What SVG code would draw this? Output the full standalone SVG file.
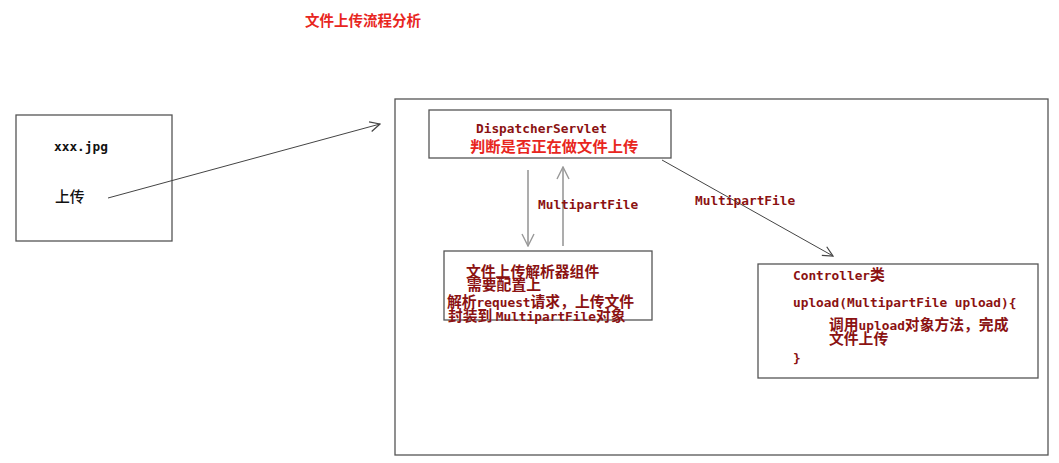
<svg xmlns="http://www.w3.org/2000/svg" width="1059" height="463" viewBox="0 0 1059 463">
<style>
.box{fill:#fff;stroke:#555;stroke-width:1.3}
.cn{font-family:"Noto Sans CJK SC","Noto Sans",sans-serif;font-size:14.8px;font-weight:bold}
.t{font-size:14.5px}
.nw{font-weight:500}
.m{font-family:"DejaVu Sans Mono","Liberation Mono",monospace;font-size:12.8px;font-weight:bold}
.dr{fill:#8b1212}
.rd{fill:#e8261e}
.bk{fill:#111}
.ln{fill:none;stroke:#444;stroke-width:1}
.gl{fill:none;stroke:#999;stroke-width:1.6}
</style>
<defs>
<marker id="ah" viewBox="0 0 12 12" refX="11" refY="6" markerWidth="12" markerHeight="12" markerUnits="userSpaceOnUse" orient="auto">
<path d="M1,1 L11,6 L1,11" fill="none" stroke="#444" stroke-width="1.2"/>
</marker>
<marker id="ag" viewBox="0 0 14 14" refX="13" refY="7" markerWidth="14" markerHeight="14" markerUnits="userSpaceOnUse" orient="auto">
<path d="M1,1 L13,7 L1,13" fill="none" stroke="#999" stroke-width="1.4"/>
</marker>
</defs>
<rect width="1059" height="463" fill="#fff"/>
<g id="title"><text x="305" y="26" class="cn t rd">文件上传流程分析</text></g>
<g id="container"><rect x="395" y="99" width="653" height="356" class="box"/></g>
<g id="file"><rect x="16" y="115" width="156" height="126" class="box"/>
<text x="54" y="151" class="m bk">xxx.jpg</text>
<text x="55" y="202" class="cn nw bk">上传</text></g>
<g id="dispatcher"><rect x="429" y="110" width="242" height="48" class="box"/>
<text x="476" y="133" class="m dr">DispatcherServlet</text>
<text x="470" y="152" class="cn rd" style="font-size:15.3px">判断是否正在做文件上传</text></g>
<g id="resolver"><rect x="444" y="251" width="208" height="69" class="box"/>
<text x="466" y="277" class="cn dr">文件上传解析器组件</text>
<text x="467" y="290" class="cn dr">需要配置上</text>
<text x="447" y="307" class="cn dr">解析<tspan class="m">request</tspan>请求，上传文件</text>
<text x="448" y="321" class="cn dr">封装到 <tspan class="m">MultipartFile</tspan>对象</text></g>
<g id="controller"><rect x="758" y="264" width="280" height="114" class="box"/>
<text x="793" y="280" class="cn dr"><tspan class="m">Controller</tspan>类</text>
<text x="793" y="307" class="m dr">upload(MultipartFile upload){</text>
<text x="829" y="330" class="cn dr"><tspan>调用</tspan><tspan class="m">upload</tspan>对象方法，完成</text>
<text x="829" y="344" class="cn dr">文件上传</text>
<text x="793" y="362" class="m dr">}</text></g>
<g id="connectors">
<line x1="108" y1="198" x2="380" y2="124" class="ln" marker-end="url(#ah)"/>
<line x1="528" y1="170" x2="528" y2="246" class="gl" marker-end="url(#ag)"/>
<line x1="563" y1="246" x2="563" y2="167" class="gl" marker-end="url(#ag)"/>
<line x1="662" y1="160" x2="833" y2="256" class="ln" marker-end="url(#ah)"/>
<text x="538" y="209" class="m dr">MultipartFile</text>
<text x="695" y="205" class="m dr">MultipartFile</text>
</g>
</svg>
